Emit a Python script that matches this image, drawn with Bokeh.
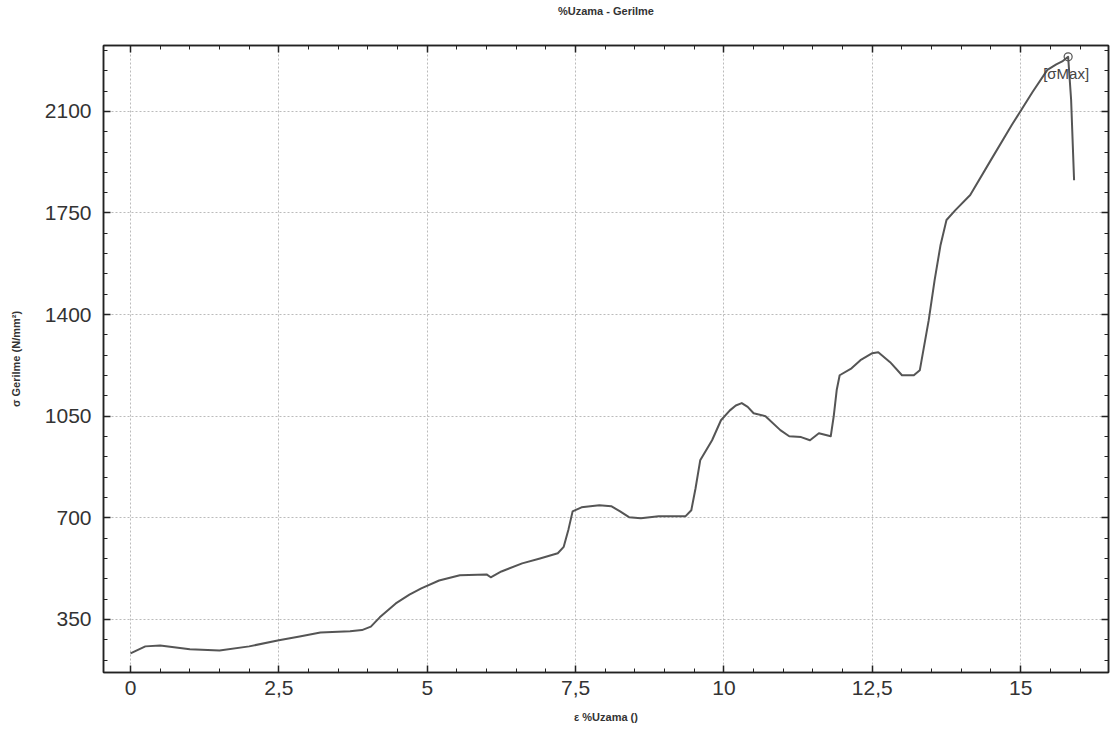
from bokeh.plotting import figure
from bokeh.models import (Range1d, FixedTicker, LinearAxis, Label)
from bokeh.embed import file_html
from bokeh.resources import INLINE

# Data (strain %, stress N/mm²)
strain = [0.0, 0.25, 0.5, 1.0, 1.5, 2.0, 2.5, 2.85, 3.2, 3.7, 3.9, 4.05, 4.2, 4.47,
          4.7, 4.9, 5.2, 5.55, 6.0, 6.07, 6.25, 6.6, 6.9, 7.2, 7.3, 7.38, 7.45, 7.6,
          7.9, 8.1, 8.25, 8.4, 8.6, 8.9, 9.35, 9.45, 9.52, 9.6, 9.8, 9.95, 10.1,
          10.2, 10.3, 10.4, 10.5, 10.7, 10.95, 11.1, 11.3, 11.45, 11.6, 11.8, 11.85,
          11.9, 11.95, 12.15, 12.3, 12.5, 12.6, 12.8, 13.0, 13.2, 13.3, 13.45, 13.55,
          13.65, 13.75, 13.9, 14.15, 14.5, 14.85, 15.2, 15.45, 15.6, 15.7, 15.8,
          15.85, 15.9]
stress = [233, 257, 260, 247, 243, 257, 278, 291, 305, 309, 313, 325, 357, 405,
          435, 457, 484, 502, 505, 495, 515, 543, 560, 578, 600, 660, 722, 736,
          743, 740, 722, 702, 698, 705, 705, 726, 800, 898, 967, 1036, 1070,
          1087, 1095, 1082, 1060, 1050, 1002, 981, 978, 967, 991, 981, 1050,
          1140, 1191, 1215, 1243, 1267, 1270, 1236, 1191, 1191, 1208, 1380, 1519,
          1640, 1726, 1760, 1812, 1933, 2053, 2167, 2243, 2262, 2272, 2288,
          2140, 1863]
peak_x = [15.8]
peak_y = [2288]

title_text = "%Uzama - Gerilme"
x_ticks = [0, 2.5, 5, 7.5, 10, 12.5, 15]
x_labels = ["0", "2,5", "5", "7,5", "10", "12,5", "15"]
y_ticks = [350, 700, 1050, 1400, 1750, 2100]
x_minor = [v * 0.5 for v in range(-1, 34)]
y_minor = [v * 70 for v in range(2, 34)]

FONT = "Liberation Sans"
TXT = "#333333"

p = figure(width=1112, height=730, output_backend="svg", toolbar_location=None,
           x_range=Range1d(-0.455, 16.48), y_range=Range1d(167, 2327),
           min_border_left=103, min_border_right=4, min_border_top=45,
           min_border_bottom=58, title=None)

p.outline_line_color = "#222222"
p.outline_line_width = 1.5
p.background_fill_color = "white"
p.border_fill_color = "white"

p.line(strain, stress, line_color="#555555", line_width=2, line_join="round")
p.scatter(peak_x, peak_y, marker="circle", size=8, fill_color=None,
          line_color="#555555", line_width=1.2)
p.add_layout(Label(x=peak_x[0], y=peak_y[0], text="[σMax]", text_align="center",
                   text_baseline="middle", y_offset=-17, x_offset=-2,
                   text_font=FONT, text_font_size="15px", text_color="#444444"))

xt = FixedTicker(ticks=x_ticks, minor_ticks=x_minor)
yt = FixedTicker(ticks=y_ticks, minor_ticks=y_minor)

for ax in p.xaxis:
    ax.ticker = xt
    ax.major_label_overrides = {t: l for t, l in zip(x_ticks, x_labels)}
    ax.axis_label = "ε %Uzama ()"
    ax.axis_label_standoff = 13
    ax.major_label_standoff = 8
for ax in p.yaxis:
    ax.ticker = yt
    ax.axis_label = "σ Gerilme (N/mm²)"
    ax.axis_label_standoff = 20
    ax.major_label_standoff = 12

for ax in list(p.xaxis) + list(p.yaxis):
    ax.axis_line_color = "#222222"
    ax.axis_line_width = 1.5
    ax.major_tick_in = 7
    ax.major_tick_out = 0
    ax.minor_tick_in = 4
    ax.minor_tick_out = 0
    ax.major_tick_line_color = "#222222"
    ax.minor_tick_line_color = "#222222"
    ax.major_tick_line_width = 1.5
    ax.major_label_text_font = FONT
    ax.major_label_text_font_size = "21px"
    ax.major_label_text_color = TXT
    ax.axis_label_text_font = FONT
    ax.axis_label_text_font_size = "11px"
    ax.axis_label_text_font_style = "bold"
    ax.axis_label_text_color = TXT

for side, ticker, dim in (("above", xt, "x"), ("right", yt, "y")):
    ax = LinearAxis(ticker=ticker, major_label_text_font_size="0px",
                    major_label_standoff=0, axis_line_color="#222222",
                    axis_line_width=1.5, major_tick_in=7, major_tick_out=0,
                    minor_tick_in=4, minor_tick_out=0,
                    major_tick_line_color="#222222", minor_tick_line_color="#222222",
                    major_tick_line_width=1.5)
    if dim == "x":
        ax.major_label_overrides = {t: "" for t in x_ticks}
        # chart title drawn as the top axis label
        ax.axis_label = title_text
        ax.axis_label_standoff = 29
        ax.axis_label_text_font = FONT
        ax.axis_label_text_font_size = "11px"
        ax.axis_label_text_font_style = "bold"
        ax.axis_label_text_color = TXT
    else:
        ax.major_label_overrides = {t: "" for t in y_ticks}
    p.add_layout(ax, side)

p.xgrid.grid_line_color = "#bbbbbb"
p.ygrid.grid_line_color = "#bbbbbb"
p.xgrid.grid_line_dash = "2 2"
p.ygrid.grid_line_dash = "2 2"
p.xgrid.ticker = xt
p.ygrid.ticker = yt

open("out.html", "w").write(file_html(p, INLINE))
